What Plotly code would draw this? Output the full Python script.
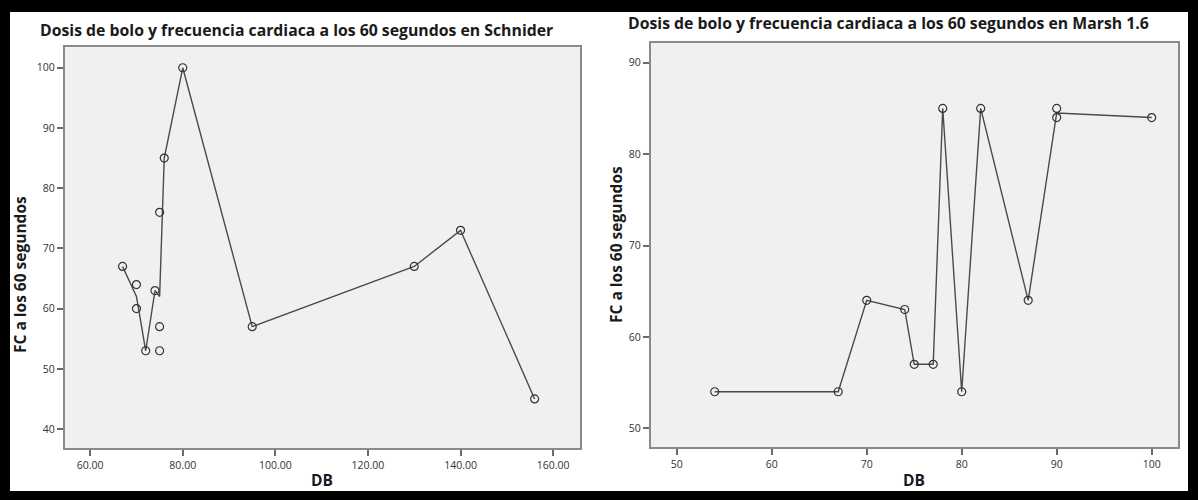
import pandas as pd
import plotly.graph_objects as go

# Schnider: bolus dose (DB) vs heart rate at 60 s
schnider_db = [67, 70, 70, 72, 74, 75, 75, 75, 76, 80, 95, 130, 140, 156]
schnider_fc = [67, 64, 60, 53, 63, 76, 57, 53, 85, 100, 57, 67, 73, 45]

# Marsh 1.6: bolus dose (DB) vs heart rate at 60 s
marsh_db = [54, 67, 70, 74, 75, 77, 78, 80, 82, 87, 90, 90, 100]
marsh_fc = [54, 54, 64, 63, 57, 57, 85, 54, 85, 64, 85, 84, 84]

title_left = "Dosis de bolo y frecuencia cardiaca a los 60 segundos en Schnider"
title_right = "Dosis de bolo y frecuencia cardiaca a los 60 segundos en Marsh 1.6"
x_title = "DB"
y_title = "FC a los 60 segundos"

left_xticks = [60, 80, 100, 120, 140, 160]
left_yticks = [40, 50, 60, 70, 80, 90, 100]
right_xticks = [50, 60, 70, 80, 90, 100]
right_yticks = [50, 60, 70, 80, 90]

W, H = 1198, 500


def px_x(p):
    return p / W


def px_y(p):
    return 1 - p / H


def mean_line(xs, ys):
    df = pd.DataFrame({"x": xs, "y": ys}).groupby("x", as_index=False)["y"].mean()
    return df["x"], df["y"]


LINE = dict(color="#4a4a4a", width=1.4)
MARK = dict(symbol="circle-open", size=8, color="#333333", line=dict(width=1.2))

fig = go.Figure()

for xs, ys, xa, ya in [
    (schnider_db, schnider_fc, "x", "y"),
    (marsh_db, marsh_fc, "x2", "y2"),
]:
    lx, ly = mean_line(xs, ys)
    fig.add_trace(go.Scatter(x=lx, y=ly, mode="lines", line=LINE,
                             xaxis=xa, yaxis=ya, hoverinfo="skip", showlegend=False))
    fig.add_trace(go.Scatter(x=xs, y=ys, mode="markers", marker=MARK,
                             xaxis=xa, yaxis=ya, showlegend=False))

tickfont = dict(family="Open Sans", size=10.5, color="#333333")
axis_common = dict(
    showgrid=False, zeroline=False, showline=True, linecolor="#8a8a8a",
    linewidth=1.5, mirror=True, ticks="outside", ticklen=6, tickwidth=1.5,
    tickcolor="#6a6a6a", tickfont=tickfont,
)

fig.update_layout(
    width=W, height=H,
    margin=dict(l=0, r=0, t=0, b=0),
    paper_bgcolor="white",
    plot_bgcolor="#f0f0f0",
    xaxis=dict(domain=[px_x(64.7), px_x(580)], range=[54.5, 165.8],
               tickvals=left_xticks, tickformat=".2f", anchor="y", **axis_common),
    yaxis=dict(domain=[px_y(448.3), px_y(47.3)], range=[36.8, 103.4],
               tickvals=left_yticks, anchor="x", **axis_common),
    xaxis2=dict(domain=[px_x(650.7), px_x(1178)], range=[47.26, 102.77],
                tickvals=right_xticks, anchor="y2", **axis_common),
    yaxis2=dict(domain=[px_y(447.3), px_y(42.7)], range=[47.92, 92.19],
                tickvals=right_yticks, anchor="x2", **axis_common),
)

# black frame around the whole figure
frame = [(0, 0, W, 12), (0, 491, W, H), (0, 0, 10, H), (1188, 0, W, H)]
for x0, y0, x1, y1 in frame:
    fig.add_shape(type="rect", xref="paper", yref="paper",
                  x0=px_x(x0), x1=px_x(x1), y0=px_y(y1), y1=px_y(y0),
                  fillcolor="black", line=dict(width=0))

title_font = dict(family="Open Sans", size=15.8, color="#1a1a1a")
label_font = dict(family="Open Sans", size=15.5, color="#1a1a1a")

annotations = [
    dict(text=f"<b>{title_left}</b>", x=px_x(38), y=px_y(30), xanchor="left",
         yanchor="middle", font=title_font),
    dict(text=f"<b>{title_right}</b>", x=px_x(626), y=px_y(23), xanchor="left",
         yanchor="middle", font=title_font),
    dict(text=f"<b>{x_title}</b>", x=px_x(322), y=px_y(480), xanchor="center",
         yanchor="middle", font=label_font),
    dict(text=f"<b>{x_title}</b>", x=px_x(914), y=px_y(480), xanchor="center",
         yanchor="middle", font=label_font),
    dict(text=f"<b>{y_title}</b>", x=px_x(20), y=px_y(275), xanchor="center",
         yanchor="middle", textangle=-90, font=label_font),
    dict(text=f"<b>{y_title}</b>", x=px_x(616), y=px_y(245), xanchor="center",
         yanchor="middle", textangle=-90, font=label_font),
]
for a in annotations:
    fig.add_annotation(xref="paper", yref="paper", showarrow=False, **a)

fig.write_html("out.html")
